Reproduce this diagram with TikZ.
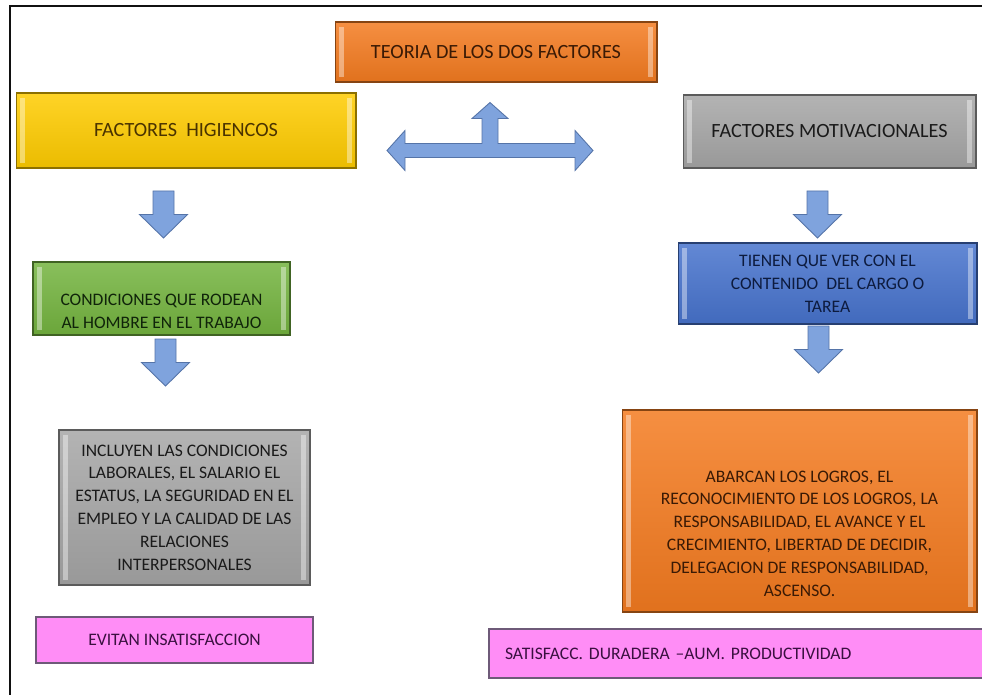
\documentclass[tikz,border=0pt]{standalone}
\usepackage{fontspec}
\setmainfont{Carlito}
\usetikzlibrary{positioning,calc}
\definecolor{cOrange}{HTML}{F47B20}
\definecolor{cOrangeTx}{HTML}{3A1A05}
\definecolor{cYellow}{HTML}{FFCC00}
\definecolor{cYellowTx}{HTML}{4A3300}
\definecolor{cGray}{HTML}{A6A6A6}
\definecolor{cGrayTx}{HTML}{1A1A1A}
\definecolor{cGreen}{HTML}{74B43F}
\definecolor{cGreenTx}{HTML}{10240A}
\definecolor{cBlue}{HTML}{4773CD}
\definecolor{cBlueTx}{HTML}{0D1B3E}
\definecolor{cPink}{HTML}{FF8DF6}
\definecolor{cPinkLn}{HTML}{6E5A78}
\definecolor{cPinkTx}{HTML}{3A1040}
\definecolor{cArrow}{HTML}{7FA3DD}
\definecolor{cArrowLn}{HTML}{5574A8}
\definecolor{cInk}{HTML}{111111}
% block arrow pointing down, centred at #1
\newcommand\dnarr[1]{\draw[blkarr, shift={#1}] (-10.5,-23.5) -- (10.5,-23.5) -- (10.5,0)
  -- (24,0) -- (0,23.5) -- (-24,0) -- (-10.5,0) -- cycle;}

\begin{document}
\begin{tikzpicture}[
  x=0.02cm, y=-0.02cm,
  font=\fontsize{10}{13}\selectfont,
  blk/.style 2 args={draw=#1!55!black, line width=.6pt, top color=#1!85!white,
                     bottom color=#1!92!black, text=#2, align=center, inner sep=2pt,
                     path picture={
                       \fill[white, opacity=.4]
                         ([xshift=2pt,yshift=-3pt]path picture bounding box.north west)
                         rectangle ([xshift=5pt,yshift=3pt]path picture bounding box.south west);
                       \fill[white, opacity=.4]
                         ([xshift=-5pt,yshift=-3pt]path picture bounding box.north east)
                         rectangle ([xshift=-2pt,yshift=3pt]path picture bounding box.south east);}},
  hdr/.style={font=\fontsize{11.5}{14}\selectfont},
  tag/.style={draw=cPinkLn, fill=cPink, line width=.7pt, text=cPinkTx, inner sep=2pt},
  blkarr/.style={draw=cArrowLn, fill=cArrow, line width=.5pt, line join=miter},
]
\fill[white] (0,0) rectangle (982,695);
\useasboundingbox (0,0) rectangle (982,695);

% ---------------- frame ----------------
\draw[cInk, line width=.9pt] (10,695) -- (10,6) -- (982,6);

% ---------------- title and the two factors ----------------
\node[blk={cOrange}{cOrangeTx}, hdr, minimum width=6.44cm, minimum height=1.2cm]
  (teoria) at (496,52) {TEORIA DE LOS DOS FACTORES};
\node[blk={cYellow}{cYellowTx}, hdr, minimum width=6.8cm, minimum height=1.5cm]
  (hig) at (186,130.5) {FACTORES\ \ HIGIENCOS};
\node[blk={cGray}{cGrayTx}, hdr, minimum width=5.86cm, minimum height=1.46cm]
  (mot) at (829.5,131.5) {FACTORES MOTIVACIONALES};

\coordinate (hub) at ($(teoria.south)+(-6,68)$);
\draw[blkarr, shift={(hub)}] (-103,0) -- (-85,-20) -- (-85,-7) -- (-8,-7) -- (-8,-32)
  -- (-18,-32) -- (0,-48) -- (18,-32) -- (8,-32) -- (8,-7) -- (85,-7) -- (85,-20)
  -- (103,0) -- (85,20) -- (85,7) -- (-85,7) -- (-85,20) -- cycle;

% ---------------- hygiene branch ----------------
\node[blk={cGreen}{cGreenTx}, minimum width=5.14cm, minimum height=1.46cm]
  (cond) at (161.5,298.5)
  {\rule{0pt}{0.73cm}CONDICIONES QUE RODEAN\\AL HOMBRE EN EL TRABAJO};
\node[blk={cGray}{cGrayTx}, minimum width=5.02cm, minimum height=3.1cm]
  (incl) at (184.5,507.5)
  {INCLUYEN LAS CONDICIONES\\LABORALES, EL SALARIO EL\\ESTATUS, LA SEGURIDAD EN EL\\
   EMPLEO Y LA CALIDAD DE LAS\\RELACIONES\\INTERPERSONALES};
\node[tag, minimum width=5.54cm, minimum height=0.92cm]
  (evit) at (174.5,640) {EVITAN INSATISFACCION};

\dnarr{($(cond.north)+(2,-47)$)}
\dnarr{($(cond.south)+(4,27)$)}

% ---------------- motivation branch ----------------
\node[blk={cBlue}{cBlueTx}, minimum width=5.98cm, minimum height=1.62cm]
  (tien) at (827.5,283.5)
  {TIENEN QUE VER CON EL\\CONTENIDO\ \ DEL CARGO O\\TAREA};
\node[blk={cOrange}{cOrangeTx}, minimum width=7.1cm, minimum height=4.04cm]
  (abar) at (799.5,511)
  {\rule{0pt}{1.13cm}ABARCAN LOS LOGROS, EL\\RECONOCIMIENTO DE LOS LOGROS, LA\\
   RESPONSABILIDAD, EL AVANCE Y EL\\CRECIMIENTO, LIBERTAD DE DECIDIR,\\
   DELEGACION DE RESPONSABILIDAD,\\ASCENSO.};
\node[tag, minimum width=10.02cm, minimum height=0.98cm, text width=9.38cm,
      align=left, inner xsep=0.32cm]
  (sat) at (739.5,653.5) {SATISFACC. DURADERA --AUM. PRODUCTIVIDAD};

\dnarr{($(tien.north)+(-10,-28)$)}
\dnarr{($(tien.south)+(-9,25)$)}

\end{tikzpicture}
\end{document}
